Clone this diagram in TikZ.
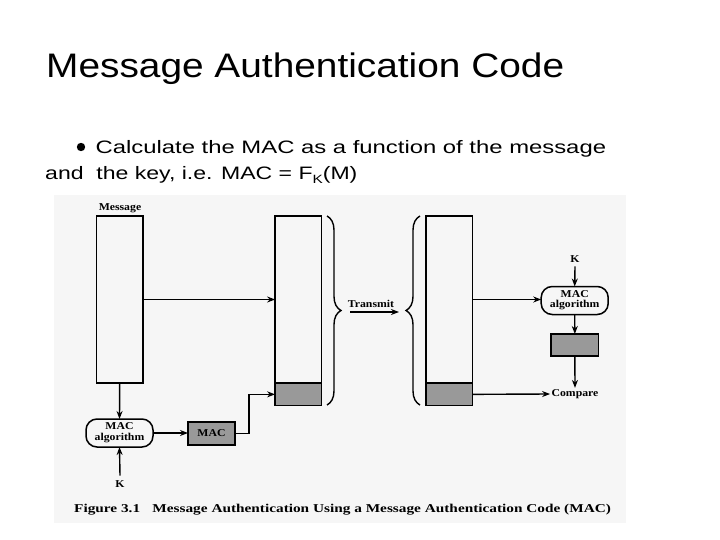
\documentclass[tikz,border=0pt]{standalone}
\usepackage{fontspec}
\setmainfont{Liberation Sans}
\newfontfamily\serifd{Liberation Serif}
\usepackage{graphicx}
\usetikzlibrary{arrows.meta,decorations.pathreplacing}
\definecolor{figbg}{RGB}{246,246,246}
\definecolor{macgray}{RGB}{153,153,153}
\newcommand{\dtx}[1]{\scalebox{1.12}[1]{\serifd\bfseries\fontsize{10.5}{11}\selectfont #1}}
\newcommand{\dtwo}[2]{\scalebox{1.12}[1]{\serifd\bfseries\fontsize{10.5}{10}\selectfont\begin{tabular}{@{}c@{}}#1\\#2\end{tabular}}}
\tikzset{
  box/.style={draw, line width=1.5pt, inner sep=0pt, outer sep=0pt, minimum width=46.5pt},
  alg/.style={draw, line width=1.5pt, rounded corners=11pt, inner sep=0pt, outer sep=0pt, minimum width=67pt, minimum height=28pt},
  dlbl/.style={inner sep=0pt, outer sep=1pt},
  arr/.style={-{Stealth[length=8pt,width=6pt]}, line width=1.4pt},
  brc/.style={decorate, decoration={brace, amplitude=14pt, aspect=0.5}, line width=1.4pt},
}
\begin{document}
\begin{tikzpicture}[x=1pt,y=-1pt]
\useasboundingbox (0,0) rectangle (720,540);
\fill[white] (0,0) rectangle (720,540);
\fill[figbg] (54,195.5) rectangle (626,522.5);

% title and bullet text
\node[anchor=base west, inner sep=0pt] (title) at (46,77.7)
  {\fontsize{34}{40}\selectfont\scalebox{1.142}[1]{Message Authentication Code}};
\node[circle, fill=black, inner sep=0pt, minimum size=8.4pt] (bullet) at (81,147) {};
\node[anchor=base west, inner sep=0pt] (l1) at (95.5,153.3)
  {\fontsize{18}{22}\selectfont\scalebox{1.325}[1]{Calculate the MAC as a function of the message}};
\node[anchor=base west, inner sep=0pt] (l2) at (45,180)
  {\fontsize{18}{22}\selectfont\scalebox{1.28}[1]{and\ \ the key, i.e. MAC = F\raisebox{-4pt}{\fontsize{12}{12}\selectfont K}(M)}};

% sender side
\node[box, minimum height=167pt] (msg) at (119.7,299.5) {};
\node[dlbl] (msglbl) at (120,208.5) {\dtx{Message}};
\node[alg] (mac1) at (119.5,433) {\dtwo{MAC}{algorithm}};
\node[box, fill=macgray, minimum width=47pt, minimum height=23pt] (macb) at (211.5,433.5) {\dtx{MAC}};
\node[dlbl, outer sep=5pt] (k1) at (120,484) {\dtx{K}};
\node[box, minimum height=167pt] (tx1) at (298.35,299.5) {};
\node[box, fill=macgray, minimum height=22.7pt, anchor=north] (tx1m) at (tx1.south) {};

% transmit
\node[dlbl] (trans) at (371,303.5) {\dtx{Transmit}};
\coordinate (ta) at (350,312);
\coordinate (tb) at (399,312);
\draw[brc] (327,216) -- (327,405);
\draw[brc] (420,405) -- (420,216);

% receiver side
\node[box, minimum height=167pt] (tx2) at (449.15,299.5) {};
\node[box, fill=macgray, minimum height=22.7pt, anchor=north] (tx2m) at (tx2.south) {};
\node[dlbl, outer sep=4pt] (k2) at (575,259) {\dtx{K}};
\node[alg] (mac2) at (574.7,300.5) {\dtwo{MAC}{algorithm}};
\node[box, fill=macgray, minimum width=47.7pt, minimum height=22pt] (cmpb) at (574.85,345) {};
\node[dlbl, outer sep=1.5pt] (cmp) at (575,394) {\dtx{Compare}};

% connectors
\draw[arr] (msg.east) -- (tx1.west);
\draw[arr] (msg.south) -- (mac1.north);
\draw[arr] (mac1.east) -- (mac1.east -| macb.west);
\draw[arr] (macb.east) -- ++(14,0) |- (tx1m.west);
\draw[arr] (k1.north) -- (mac1.south);
\draw[arr] (ta) -- (tb);
\draw[arr] (tx2.east) -- (tx2.east -| mac2.west);
\draw[arr] (k2.south) -- (mac2.north);
\draw[arr] (mac2.south) -- (cmpb.north);
\draw[arr] (cmpb.south) -- (cmp.north);
\draw[arr] (tx2m.east) -- (cmp.west);

% caption
\node[anchor=base west, inner sep=0pt] (cap) at (74,512)
  {\scalebox{1.275}[1]{\serifd\bfseries\fontsize{12}{14}\selectfont Figure 3.1\hspace{0.8em}Message Authentication Using a Message Authentication Code (MAC)}};
\end{tikzpicture}
\end{document}
